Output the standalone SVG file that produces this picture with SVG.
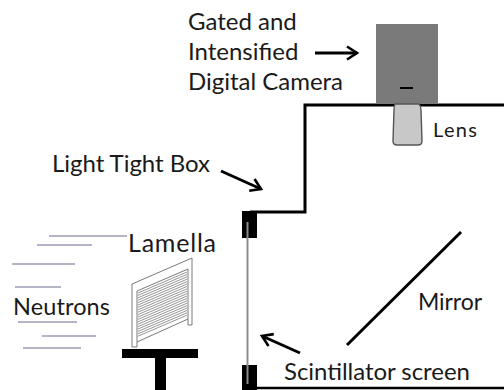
<svg xmlns="http://www.w3.org/2000/svg" width="504" height="390" viewBox="0 0 504 390">
  <style>
    .lbl { font-family: Lato, "Liberation Sans", sans-serif; fill: #1a1a1a; }
    .wall { fill: none; stroke: #000; stroke-width: 3; }
    .beam { stroke: #b4b4c8; stroke-width: 2; }
    .ptr { stroke: #000; stroke-width: 3; fill: none; marker-end: url(#head); }
    .slat { stroke: #8a8a8a; stroke-width: 0.9; }
  </style>
  <defs>
    <marker id="head" markerUnits="userSpaceOnUse" markerWidth="16" markerHeight="16" refX="11" refY="8" orient="auto">
      <path d="M1,1.5 L11,8 L1,14.5" fill="none" stroke="#000" stroke-width="2.6"/>
    </marker>
  </defs>
  <rect width="504" height="390" fill="#fff"/>

  <!-- light tight enclosure -->
  <g id="box">
    <path class="wall" d="M504,105 H305 V212 H250"/>
    <line x1="256" y1="388" x2="504" y2="388" stroke="#000" stroke-width="2.5"/>
    <rect x="242" y="211" width="15" height="27" fill="#000"/>
    <rect x="242" y="365" width="15" height="25" fill="#000"/>
  </g>

  <!-- scintillator screen -->
  <g id="screen">
    <line x1="247.5" y1="222" x2="247.5" y2="384" stroke="#8c8c8c" stroke-width="2"/>
  </g>

  <!-- camera and lens -->
  <g id="camera">
    <rect x="376" y="24" width="62" height="80" fill="#7a7a7a"/>
    <line x1="400" y1="88" x2="413" y2="88" stroke="#000" stroke-width="2"/>
  </g>
  <g id="lens">
    <path d="M395,104 L419,104 Q421,106 421,110 L422,141 Q422,145 418,145 L397,145 Q393,145 393,141 L394,110 Q394,106 395,104 Z" fill="#c8c8c8" stroke="#555" stroke-width="1.4"/>
  </g>

  <!-- mirror -->
  <g id="mirror">
    <line x1="347" y1="345" x2="461" y2="232" stroke="#000" stroke-width="3"/>
  </g>

  <!-- sample stand -->
  <g id="stand">
    <rect x="122" y="349" width="76" height="9" fill="#000"/>
    <rect x="155" y="357" width="11" height="33" fill="#000"/>
  </g>

  <!-- lamella grating -->
  <g id="lamella">
    <path d="M132,284 L192,258 L192,325 L188,325 L188,319 L137,342 L137,347 L132,347 Z" fill="#fff" stroke="#7a7a7a" stroke-width="1"/>
    <path d="M137,342 L137,291 L188,269 L188,319" fill="none" stroke="#7a7a7a" stroke-width="1"/>
    <g class="slat">
      <line x1="138" y1="293" x2="187" y2="272"/>
      <line x1="138" y1="295.4" x2="187" y2="274.4"/>
      <line x1="138" y1="297.8" x2="187" y2="276.8"/>
      <line x1="138" y1="300.2" x2="187" y2="279.2"/>
      <line x1="138" y1="302.6" x2="187" y2="281.6"/>
      <line x1="138" y1="305" x2="187" y2="284"/>
      <line x1="138" y1="307.4" x2="187" y2="286.4"/>
      <line x1="138" y1="309.8" x2="187" y2="288.8"/>
      <line x1="138" y1="312.2" x2="187" y2="291.2"/>
      <line x1="138" y1="314.6" x2="187" y2="293.6"/>
      <line x1="138" y1="317" x2="187" y2="296"/>
      <line x1="138" y1="319.4" x2="187" y2="298.4"/>
      <line x1="138" y1="321.8" x2="187" y2="300.8"/>
      <line x1="138" y1="324.2" x2="187" y2="303.2"/>
      <line x1="138" y1="326.6" x2="187" y2="305.6"/>
      <line x1="138" y1="329" x2="187" y2="308"/>
      <line x1="138" y1="331.4" x2="187" y2="310.4"/>
      <line x1="138" y1="333.8" x2="187" y2="312.8"/>
      <line x1="138" y1="336.2" x2="187" y2="315.2"/>
    </g>
  </g>

  <!-- incoming neutron beam -->
  <g id="neutrons">
    <line class="beam" x1="49" y1="236" x2="127" y2="236"/>
    <line class="beam" x1="37" y1="245" x2="92" y2="245"/>
    <line class="beam" x1="12" y1="264" x2="75" y2="264"/>
    <line class="beam" x1="15" y1="287" x2="61" y2="287"/>
    <line class="beam" x1="18" y1="322" x2="77" y2="322"/>
    <line class="beam" x1="42" y1="336" x2="96" y2="336"/>
    <line class="beam" x1="23" y1="348" x2="81" y2="348"/>
  </g>

  <!-- pointer arrows -->
  <g id="connectors">
    <line class="ptr" x1="315" y1="53" x2="357" y2="53"/>
    <line class="ptr" x1="221" y1="171" x2="261" y2="189"/>
    <line class="ptr" x1="300" y1="353" x2="262" y2="336"/>
  </g>

  <!-- labels -->
  <g id="labels">
    <text class="lbl" x="188" y="30" font-size="24">Gated and</text>
    <text class="lbl" x="188" y="60" font-size="24">Intensified</text>
    <text class="lbl" x="188" y="90" font-size="24" textLength="155">Digital Camera</text>
    <text class="lbl" x="433" y="137" font-size="20" textLength="44">Lens</text>
    <text class="lbl" x="52" y="172" font-size="24" textLength="158">Light Tight Box</text>
    <text class="lbl" x="128" y="252" font-size="25" textLength="88">Lamella</text>
    <text class="lbl" x="13" y="315" font-size="23.5" textLength="97">Neutrons</text>
    <text class="lbl" x="418" y="310" font-size="23" textLength="64">Mirror</text>
    <text class="lbl" x="284" y="380" font-size="24" textLength="186">Scintillator screen</text>
  </g>
</svg>
